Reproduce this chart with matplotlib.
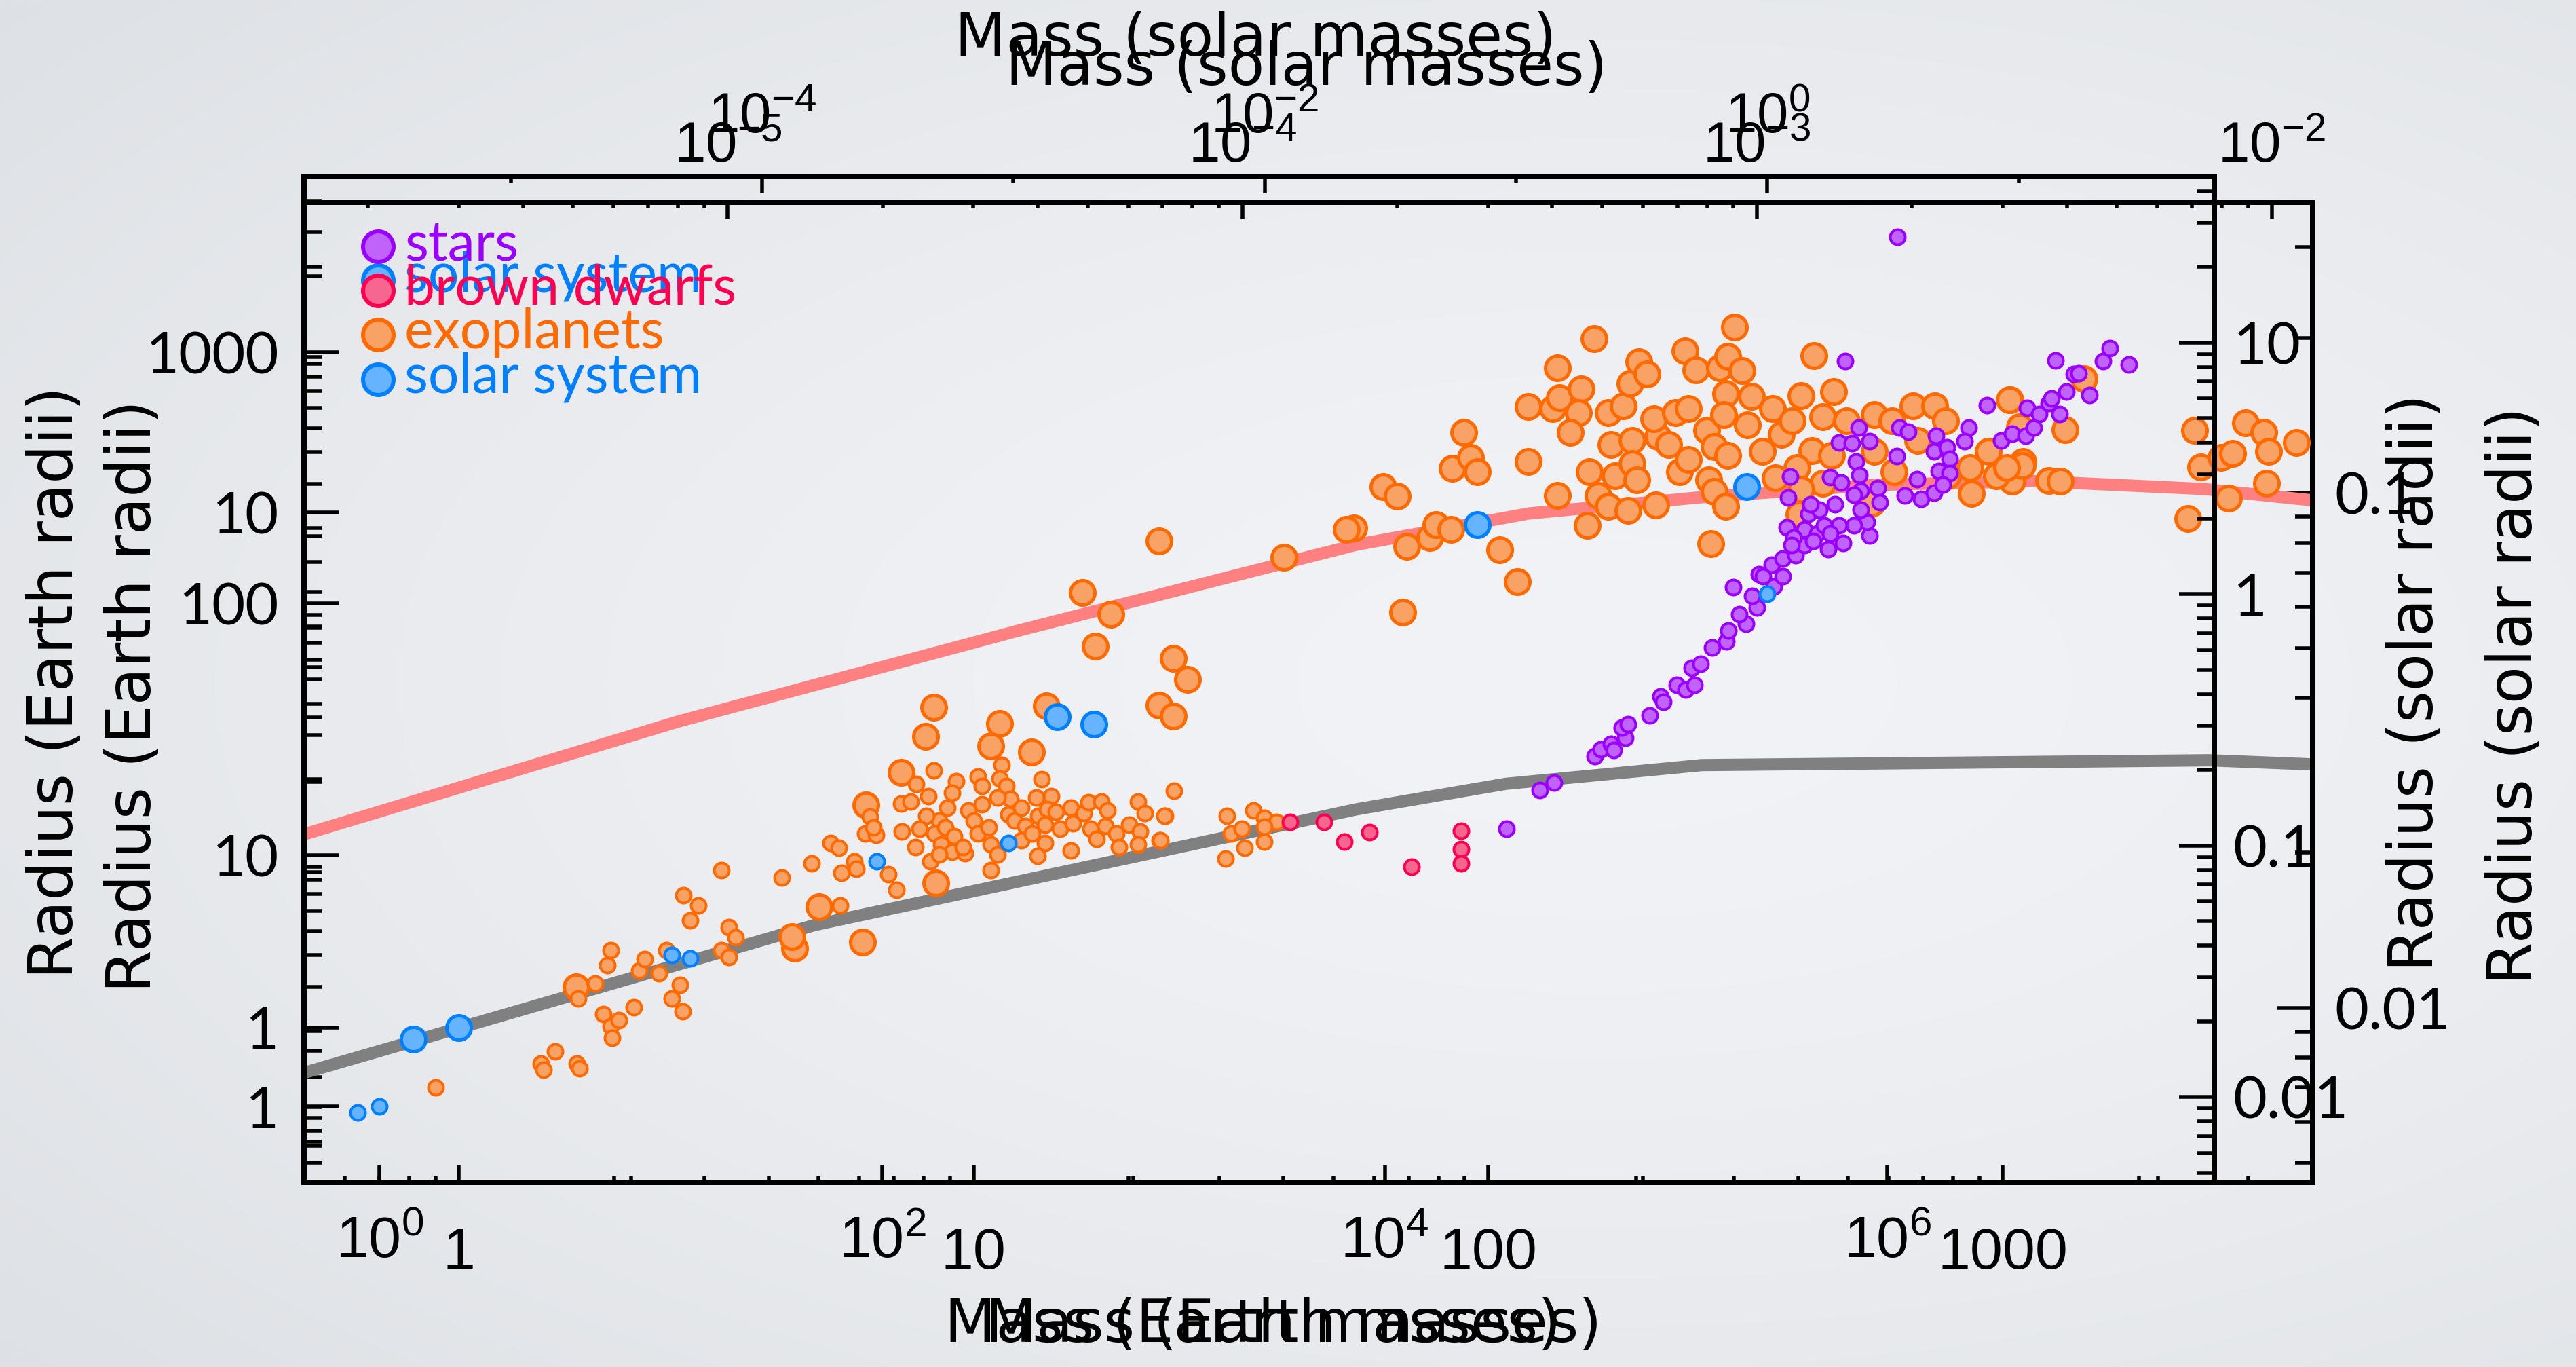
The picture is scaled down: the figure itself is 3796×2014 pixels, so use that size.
import numpy as np
import matplotlib
matplotlib.use("Agg")
import matplotlib.pyplot as plt
from matplotlib import font_manager as fm
from matplotlib.ticker import FixedLocator, LogLocator, NullFormatter, FuncFormatter

# ---------------------------------------------------------------- constants
M_SUN = 332946.0   # Earth masses per solar mass
R_SUN = 109.1      # Earth radii per solar radius

# ---------------------------------------------------------------- data
# Solar system bodies (Earth masses, Earth radii)
body_names = ["Mercury", "Venus", "Earth", "Mars", "Jupiter", "Saturn", "Uranus", "Neptune", "Sun"]
body_mass = [0.0553, 0.815, 1.0, 0.107, 317.8, 95.16, 14.54, 17.15, 332946.0]
body_radius = [0.383, 0.949, 1.0, 0.532, 11.21, 9.45, 4.01, 3.88, 109.1]

# Wide view: exoplanets, log10(mass / M_earth) and log10(radius / R_earth)
exo_wide_logm = [
    0.222, 0.641, 0.651, 0.697, 0.784, 0.795, 0.857, 0.789, 0.889, 0.919, 0.924, 0.951,
    0.905, 0.919, 1.011, 1.032, 1.054, 1.111, 1.141, 1.195, 1.162, 1.205, 1.235, 1.268,
    1.208, 1.359, 1.389, 1.416, 1.359, 1.389, 1.600, 1.719,
    1.795, 1.827, 1.838, 1.889, 1.897, 2.024, 2.057, 1.832,
    2.205, 2.135, 1.951, 1.932, 1.976, 1.965, 2.078, 2.076, 2.132, 2.192, 2.184, 2.295,
    2.278, 2.381, 2.476, 2.468, 2.635, 2.673, 2.614, 2.397, 2.495, 2.511, 2.459, 2.397,
    2.343, 2.259, 2.227, 2.176, 2.149, 2.208, 2.251, 2.286, 2.235, 2.278, 2.330, 2.227,
    2.322, 2.365, 2.381, 2.424, 2.432, 2.459, 2.432, 2.503, 2.527, 2.554, 2.570, 2.554,
    2.597, 2.622, 2.649, 2.657, 2.692, 2.708, 2.649, 2.619, 2.751, 2.751, 2.759, 2.803,
    2.822, 2.873, 2.830, 2.854, 2.897, 2.889, 2.932, 2.941, 2.984, 3.019, 3.046, 3.027,
    3.019, 3.105, 3.127, 3.162, 3.365, 3.373, 3.389, 3.432, 3.441, 3.476, 3.519, 3.519,
    3.570, 2.114, 3.124, 3.108, 3.519,
]
exo_wide_logr = [
    0.076, 0.171, 0.146, 0.220, 0.171, 0.152, 0.490, 0.431, 0.369, 0.320, 0.274, 0.344,
    0.564, 0.621, 0.396, 0.542, 0.588, 0.531, 0.621, 0.485, 0.431, 0.379, 0.740, 0.799,
    0.840, 0.940, 0.715, 0.672, 0.621, 0.596, 0.911, 0.967,
    1.049, 1.030, 0.930, 0.976, 0.946, 0.924, 0.862, 0.799,
    1.336, 1.282, 1.154, 1.087, 1.081, 1.111, 1.095, 1.206, 1.033, 0.976, 1.236, 1.293,
    1.247, 1.314, 1.358, 1.304, 1.301, 1.236, 1.230, 1.274, 1.274, 1.225, 1.230, 1.201,
    1.179, 1.190, 1.138, 1.157, 1.106, 1.087, 1.111, 1.076, 1.043, 1.014, 1.008, 1.003,
    1.033, 1.138, 1.087, 1.111, 1.043, 1.003, 0.940, 1.163, 1.138, 1.190, 1.117, 1.060,
    1.087, 1.157, 1.122, 1.184, 1.173, 1.106, 1.049, 0.997, 1.019, 1.190, 1.127, 1.168,
    1.211, 1.214, 1.106, 1.065, 1.179, 1.117, 1.087, 1.033, 1.122, 1.214, 1.168, 1.095,
    1.043, 1.060, 1.157, 1.257, 0.986, 1.157, 1.087, 1.106, 1.030, 1.179, 1.149, 1.054,
    1.133, 1.214, 1.157, 1.060, 1.114,
]

# Wide view: brown dwarfs
bd_logm = [3.624, 3.759, 3.838, 3.938, 4.105, 4.303, 4.303, 4.303]
bd_logr = [1.133, 1.133, 1.054, 1.092, 0.954, 1.098, 1.024, 0.967]

# Wide view: stars
star_logm = [
    4.484, 4.616, 4.673, 4.835, 4.859, 4.900, 4.911, 4.957, 4.943, 4.968, 5.054, 5.097,
    5.108, 5.162, 5.197, 5.232, 5.222, 5.257, 5.303, 5.359, 5.368, 5.386, 5.438, 5.411,
    5.481, 5.462, 5.549, 5.584, 5.489, 5.505, 5.541, 5.584, 5.635, 5.670, 5.600, 5.670,
    5.722, 5.765, 5.824, 5.930, 5.919, 5.868, 5.808, 5.749, 5.686, 5.792, 5.730, 5.695,
    5.705, 5.627, 5.619, 5.773, 5.895,
    6.041, 5.832, 5.614, 5.605, 5.773, 5.816, 5.808, 5.859, 5.886, 5.930, 5.876, 5.889,
    5.895, 5.868, 5.962, 5.970, 6.038, 6.049, 6.084, 6.070, 6.119, 6.135, 6.186, 6.195,
    6.186, 6.238, 6.249, 6.205, 6.249, 6.222, 6.324, 6.308, 6.395, 6.454, 6.497, 6.549,
    6.557, 6.584, 6.603, 6.641, 6.654, 6.686, 6.711, 6.668, 6.741, 6.762, 6.805, 6.857,
    6.886, 6.962,
]
star_logr = [
    1.106, 1.260, 1.290, 1.393, 1.420, 1.442, 1.417, 1.466, 1.507, 1.520, 1.556, 1.631,
    1.610, 1.677, 1.659, 1.677, 1.745, 1.762, 1.827, 1.851, 1.892, 2.065, 1.921, 1.959,
    1.984, 2.030, 2.070, 2.108, 2.117, 2.108, 2.154, 2.179, 2.192, 2.233, 2.303, 2.295,
    2.279, 2.217, 2.241, 2.271, 2.325, 2.312, 2.312, 2.312, 2.358, 2.396, 2.374, 2.396,
    2.249, 2.263, 2.233, 2.279, 2.374,
    3.458, 2.965, 2.507, 2.423, 2.504, 2.482, 2.640, 2.637, 2.699, 2.645, 2.566, 2.512,
    2.450, 2.434, 2.461, 2.404, 2.588, 2.699, 2.683, 2.431, 2.496, 2.417, 2.442, 2.669,
    2.607, 2.621, 2.575, 2.528, 2.520, 2.474, 2.699, 2.645, 2.789, 2.650, 2.675, 2.669,
    2.778, 2.699, 2.753, 2.797, 2.816, 2.753, 2.843, 2.967, 2.913, 2.916, 2.829, 2.965,
    3.016, 2.951,
]

# Close-up view: exoplanets
exo_zoom_logm = [
    1.953, 1.930, 1.966, 1.979, 1.796, 1.823, 1.739, 1.842, 1.886, 1.899, 1.928, 2.022,
    2.057, 1.834, 2.078, 2.134, 2.205, 2.078, 2.125, 2.139, 2.180, 2.175, 2.159, 2.134,
    2.192, 2.196, 2.213, 2.234, 2.247, 2.238, 2.234, 2.263, 2.280, 2.276, 2.293, 2.309,
    2.280, 2.289, 2.272, 2.326, 2.330, 2.322, 2.351, 2.364, 2.389, 2.383, 2.403, 2.372,
    2.389, 2.424, 2.449, 2.465, 2.478, 2.493, 2.461, 2.457, 2.439, 2.465, 2.428, 2.439,
    2.461, 2.432, 2.512, 2.503, 2.533, 2.553, 2.570, 2.591, 2.558, 2.608, 2.633, 2.671,
    2.650, 2.629, 2.667, 2.600, 2.650, 2.696, 2.750, 2.784, 2.750, 2.788, 2.746, 2.826,
    2.868, 2.889, 2.834, 2.893, 2.936, 2.939, 2.972, 3.014, 3.003, 3.018, 3.039, 2.608,
    2.604,
    3.013, 3.121, 3.158, 3.032, 2.988, 3.038, 3.007, 3.089, 3.111, 3.372, 3.384, 3.359,
    3.424, 3.447, 3.439, 3.472, 3.507, 3.516, 3.513, 3.570,
    1.361, 1.603, 1.724, 1.212, 1.267, 1.236, 1.388, 1.416, 1.361, 1.388, 0.922, 0.907,
    1.050, 1.033, 1.112, 1.142, 0.859, 0.791, 0.926, 0.700, 0.228, 0.652, 0.647, 0.784,
]
exo_zoom_logr = [
    1.155, 1.085, 1.106, 1.079, 1.050, 1.032, 0.970, 0.934, 0.951, 0.976, 0.967, 0.927,
    0.865, 0.806, 1.098, 1.280, 1.337, 1.206, 1.201, 1.223, 1.240, 1.193, 1.155, 1.033,
    0.975, 1.079, 1.033, 1.011, 1.071, 1.132, 1.193, 1.207, 1.140, 1.250, 1.292, 1.268,
    1.094, 1.063, 1.004, 1.014, 1.148, 1.181, 1.132, 1.193, 1.201, 1.313, 1.276, 1.079,
    1.102, 1.159, 1.280, 1.303, 1.359, 1.275, 1.231, 1.189, 1.128, 1.110, 1.063, 1.041,
    1.011, 0.939, 1.225, 1.170, 1.118, 1.201, 1.151, 1.178, 1.067, 1.227, 1.304, 1.235,
    1.185, 1.120, 1.110, 1.087, 1.057, 1.178, 1.189, 1.178, 1.118, 1.079, 1.018, 1.207,
    1.207, 1.178, 1.140, 1.071, 1.087, 1.037, 1.118, 1.219, 1.071, 1.061, 1.098, 1.045,
    0.996,
    1.218, 1.161, 1.260, 1.166, 1.071, 1.091, 1.087, 1.062, 1.061, 1.159, 1.088, 0.988,
    1.106, 1.115, 1.028, 1.174, 1.155, 1.118, 1.057, 1.136,
    0.945, 0.913, 0.967, 0.844, 0.802, 0.740, 0.716, 0.675, 0.626, 0.604, 0.621, 0.565,
    0.590, 0.546, 0.534, 0.624, 0.495, 0.432, 0.280, 0.234, 0.079, 0.153, 0.176, 0.166,
]

# Close-up view: model mass-radius curves (Earth masses, Earth radii)
hydrogen_mass = [0.5, 2.68, 12.2, 55.4, 120, 260, 562, 1146, 2450, 4000]
hydrogen_radius = [2.37, 3.93, 5.89, 8.65, 9.95, 10.7, 11.3, 11.5, 11.1, 10.55]
rock_mass = [0.5, 4.91, 55.4, 108, 260, 2520, 4000]
rock_radius = [0.816, 1.58, 2.65, 2.97, 3.23, 3.30, 3.24]

legend_labels = ["stars", "brown dwarfs", "exoplanets", "solar system"]

# ---------------------------------------------------------------- styling
W, H, DPI = 3796, 2014, 100
PX = 72.0 / DPI


def pick_font(candidates):
    for name in candidates:
        try:
            fm.findfont(fm.FontProperties(family=name), fallback_to_default=False)
            return name
        except Exception:
            continue
    return "DejaVu Sans"


TICKFONT = pick_font(["Liberation Sans", "Arial", "DejaVu Sans"])
ROUND = pick_font(["Lato", "Open Sans", "DejaVu Sans"])
TITLE = "DejaVu Sans"

STAR_FACE, STAR_EDGE = "#bf63fa", "#9a00ff"
BD_FACE, BD_EDGE = "#f7668f", "#ff0050"
EXO_FACE, EXO_EDGE = "#f9a266", "#ff6a00"
SS_FACE, SS_EDGE = "#66b3ff", "#0080ff"
H_COLOR, ROCK_COLOR = "#ff8080", "#808080"

TICK_W = 5.5 * PX
SPINE_W = 8 * PX
X_MAJ, X_MIN = 25 * PX, 9 * PX
Y_MAJ, Y_MIN = 52 * PX, 26 * PX

S_WIDE, LW_WIDE = (22 * PX) ** 2, 4 * PX
S_ZOOM, LW_ZOOM = (36 * PX) ** 2, 5 * PX
S_KEY, LW_KEY = (45 * PX) ** 2, 6 * PX

pow_fmt = FuncFormatter(lambda v, p: r"$\mathregular{10^{%d}}$" % int(round(np.log10(v))))
num_fmt = FuncFormatter(lambda v, p: "%g" % v)
minor_log = lambda: LogLocator(base=10, subs=np.arange(2, 10), numticks=100)

fig = plt.figure(figsize=(W / DPI, H / DPI), dpi=DPI)

# soft vignette background
bg = fig.add_axes([0, 0, 1, 1], zorder=-10)
gy, gx = np.mgrid[0:1:300j, 0:1:560j]
dist = np.hypot((gx - 0.62) / 0.8, (gy - 0.50) / 0.75)
t = np.clip(dist, 0, 1) ** 1.5
inner = np.array([242, 243, 246]) / 255.0
outer = np.array([222, 225, 229]) / 255.0
bg.imshow(inner + (outer - inner) * t[..., None], extent=[0, 1, 0, 1], aspect="auto",
          origin="lower", interpolation="bilinear")
bg.set_axis_off()


def make_axes(rect, z):
    ax = fig.add_axes(rect, zorder=z)
    ax.patch.set_visible(False)
    ax.set_xscale("log")
    ax.set_yscale("log")
    for sp in ax.spines.values():
        sp.set_linewidth(SPINE_W)
    return ax


def style_axis(ax, axis, maj, mnr, pad, font, size):
    ax.tick_params(axis=axis, which="both", direction="in", width=TICK_W, pad=pad,
                   labelsize=size, labelfontfamily=font, color="black")
    ax.tick_params(axis=axis, which="major", length=maj)
    ax.tick_params(axis=axis, which="minor", length=mnr)


def add_secondaries(ax):
    top = ax.secondary_xaxis("top", functions=(lambda m: m / M_SUN, lambda s: s * M_SUN))
    right = ax.secondary_yaxis("right", functions=(lambda r: r / R_SUN, lambda s: s * R_SUN))
    for sec in (top, right):
        for sp in sec.spines.values():
            sp.set_linewidth(SPINE_W)
    return top, right


# ================================================================ close-up view
axZ = make_axes([448 / W, 272 / H, 2960 / W, 1444 / H], 1)
axZ.set_xlim(0.5, 4000)
axZ.set_ylim(0.5, 40)

axZ.plot(hydrogen_mass, hydrogen_radius, color=H_COLOR, lw=18 * PX, solid_capstyle="butt", zorder=2)
axZ.plot(rock_mass, rock_radius, color=ROCK_COLOR, lw=18 * PX, solid_capstyle="butt", zorder=2)
axZ.scatter(10 ** np.array(exo_zoom_logm), 10 ** np.array(exo_zoom_logr), s=S_ZOOM,
            facecolor=EXO_FACE, edgecolor=EXO_EDGE, linewidth=LW_ZOOM, zorder=3)
axZ.scatter(body_mass, body_radius, s=S_ZOOM, facecolor=SS_FACE, edgecolor=SS_EDGE,
            linewidth=LW_ZOOM, zorder=4)

axZ.xaxis.set_major_locator(FixedLocator([1, 10, 100, 1000]))
axZ.xaxis.set_minor_locator(minor_log())
axZ.xaxis.set_major_formatter(num_fmt)
axZ.xaxis.set_minor_formatter(NullFormatter())
axZ.yaxis.set_major_locator(FixedLocator([1, 10]))
axZ.yaxis.set_minor_locator(minor_log())
axZ.yaxis.set_major_formatter(num_fmt)
axZ.yaxis.set_minor_formatter(NullFormatter())
style_axis(axZ, "x", X_MAJ, X_MIN, 47, TICKFONT, 62)
style_axis(axZ, "y", Y_MAJ, Y_MIN, 27, ROUND, 61)

topZ, rightZ = add_secondaries(axZ)
topZ.xaxis.set_major_locator(FixedLocator([1e-5, 1e-4, 1e-3, 1e-2]))
topZ.xaxis.set_minor_locator(minor_log())
topZ.xaxis.set_major_formatter(pow_fmt)
topZ.xaxis.set_minor_formatter(NullFormatter())
style_axis(topZ, "x", X_MAJ, X_MIN, 30, TICKFONT, 60)
rightZ.yaxis.set_major_locator(FixedLocator([0.01, 0.1]))
rightZ.yaxis.set_minor_locator(minor_log())
rightZ.yaxis.set_major_formatter(num_fmt)
rightZ.yaxis.set_minor_formatter(NullFormatter())
style_axis(rightZ, "y", Y_MAJ, Y_MIN, 23, ROUND, 62)

axZ.set_xlabel("Mass (Earth masses)", fontsize=63, family=TITLE, va="baseline")
axZ.xaxis.set_label_coords(0.4926, -0.1627)
axZ.set_ylabel("Radius (Earth radii)", fontsize=65, family=TITLE, va="center")
axZ.yaxis.set_label_coords(-0.0848, 0.4965)
topZ.set_xlabel("Mass (solar masses)", fontsize=63, family=TITLE, va="baseline")
topZ.xaxis.set_label_coords(0.499, 1.1198, transform=axZ.transAxes)
rightZ.set_ylabel("Radius (solar radii)", fontsize=65, family=TITLE, va="center")
rightZ.yaxis.set_label_coords(1.1007, 0.4965, transform=axZ.transAxes)

# key for the close-up view
axZ.scatter([0.0368], [0.9204], s=S_KEY, facecolor=SS_FACE, edgecolor=SS_EDGE,
            linewidth=LW_KEY, transform=axZ.transAxes, clip_on=False, zorder=5)
axZ.text(0.050, 0.9086, legend_labels[3], color=SS_EDGE, fontsize=58, family=ROUND,
         va="baseline", ha="left", transform=axZ.transAxes)

# ================================================================ wide view
axW = make_axes([448 / W, 272 / H, 2815 / W, 1482 / H], 2)
axW.set_xlim(0.5, 2e7)
axW.set_ylim(0.5, 5000)

axW.scatter(10 ** np.array(exo_wide_logm), 10 ** np.array(exo_wide_logr), s=S_WIDE,
            facecolor=EXO_FACE, edgecolor=EXO_EDGE, linewidth=LW_WIDE, zorder=3)
axW.scatter(10 ** np.array(bd_logm), 10 ** np.array(bd_logr), s=S_WIDE,
            facecolor=BD_FACE, edgecolor=BD_EDGE, linewidth=LW_WIDE, zorder=3.1)
axW.scatter(10 ** np.array(star_logm), 10 ** np.array(star_logr), s=S_WIDE,
            facecolor=STAR_FACE, edgecolor=STAR_EDGE, linewidth=LW_WIDE, zorder=3.2)
axW.scatter(body_mass, body_radius, s=S_WIDE, facecolor=SS_FACE, edgecolor=SS_EDGE,
            linewidth=LW_WIDE, zorder=4)

axW.xaxis.set_major_locator(FixedLocator([1e0, 1e2, 1e4, 1e6]))
axW.xaxis.set_minor_locator(FixedLocator([1e1, 1e3, 1e5, 1e7]))
axW.xaxis.set_major_formatter(pow_fmt)
axW.xaxis.set_minor_formatter(NullFormatter())
axW.yaxis.set_major_locator(FixedLocator([1, 10, 100, 1000]))
axW.yaxis.set_minor_locator(minor_log())
axW.yaxis.set_major_formatter(num_fmt)
axW.yaxis.set_minor_formatter(NullFormatter())
style_axis(axW, "x", X_MAJ, X_MIN, 35, TICKFONT, 62)
style_axis(axW, "y", Y_MAJ, Y_MIN, 27, ROUND, 61)

topW, rightW = add_secondaries(axW)
topW.xaxis.set_major_locator(FixedLocator([1e-4, 1e-2, 1e0]))
topW.xaxis.set_minor_locator(FixedLocator([1e-5, 1e-3, 1e-1, 1e1]))
topW.xaxis.set_major_formatter(pow_fmt)
topW.xaxis.set_minor_formatter(NullFormatter())
style_axis(topW, "x", X_MAJ, X_MIN, 34, TICKFONT, 60)
rightW.yaxis.set_major_locator(FixedLocator([0.01, 0.1, 1, 10]))
rightW.yaxis.set_minor_locator(minor_log())
rightW.yaxis.set_major_formatter(num_fmt)
rightW.yaxis.set_minor_formatter(NullFormatter())
style_axis(rightW, "y", Y_MAJ, Y_MIN, 20, ROUND, 62)

axW.set_xlabel("Mass (Earth masses)", fontsize=63, family=TITLE, va="baseline")
axW.xaxis.set_label_coords(0.4966, -0.1586)
axW.set_ylabel("Radius (Earth radii)", fontsize=65, family=TITLE, va="center")
axW.yaxis.set_label_coords(-0.130, 0.497)
topW.set_xlabel("Mass (solar masses)", fontsize=63, family=TITLE, va="baseline")
topW.xaxis.set_label_coords(0.498, 1.1201, transform=axW.transAxes)
rightW.set_ylabel("Radius (solar radii)", fontsize=65, family=TITLE, va="center")
rightW.yaxis.set_label_coords(1.1055, 0.497, transform=axW.transAxes)

# key for the wide view
key_faces = [STAR_FACE, BD_FACE, EXO_FACE, SS_FACE]
key_edges = [STAR_EDGE, BD_EDGE, EXO_EDGE, SS_EDGE]
row_step = 65.2 / 1482
for i, (lab, fc, ec) in enumerate(zip(legend_labels, key_faces, key_edges)):
    axW.scatter([0.0387], [0.9305 - i * row_step], s=S_KEY, facecolor=fc, edgecolor=ec,
                linewidth=LW_KEY, transform=axW.transAxes, clip_on=False, zorder=5)
    axW.text(0.0526, 0.9170 - i * row_step, lab, color=ec, fontsize=58, family=ROUND,
             va="baseline", ha="left", transform=axW.transAxes, zorder=6)

fig.savefig("out.png", dpi=DPI)
